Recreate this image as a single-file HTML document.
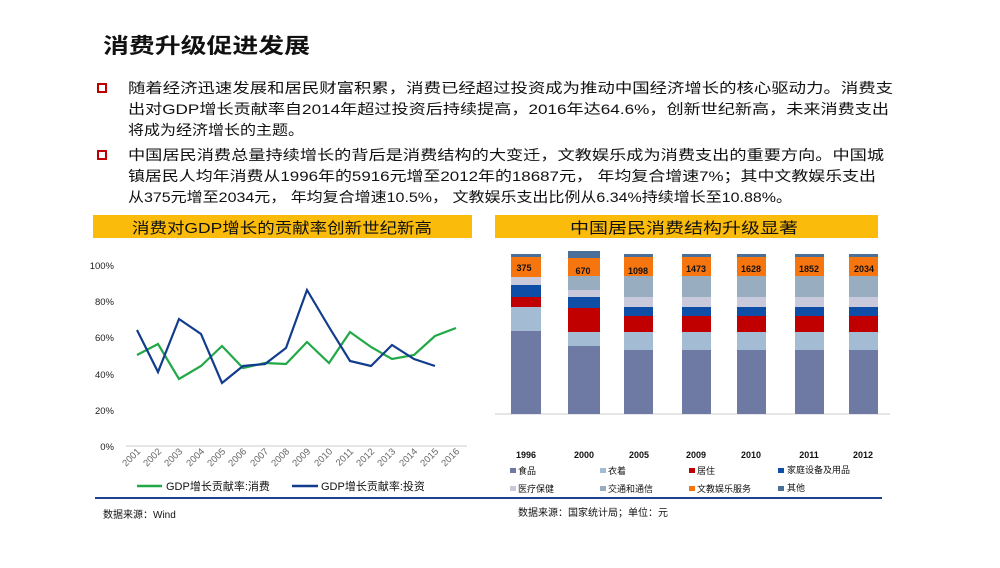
<!DOCTYPE html>
<html><head><meta charset="utf-8"><style>
body{margin:0;background:#fff}
svg text{font-family:"Liberation Sans","Noto Sans CJK SC",sans-serif}
</style></head><body>
<svg width="1000" height="563" xmlns="http://www.w3.org/2000/svg">
<text x="103" y="53" font-size="21" font-weight="bold" fill="#111" textLength="207" lengthAdjust="spacingAndGlyphs">消费升级促进发展</text>
<rect x="98" y="84" width="8" height="8" fill="none" stroke="#c00000" stroke-width="2"/>
<rect x="98" y="151" width="8" height="8" fill="none" stroke="#c00000" stroke-width="2"/>
<g font-size="14" fill="#111">
<text x="128" y="93" textLength="765" lengthAdjust="spacingAndGlyphs">随着经济迅速发展和居民财富积累，消费已经超过投资成为推动中国经济增长的核心驱动力。消费支</text>
<text x="128" y="114" textLength="761" lengthAdjust="spacingAndGlyphs">出对GDP增长贡献率自2014年超过投资后持续提高，2016年达64.6%，创新世纪新高，未来消费支出</text>
<text x="128" y="135" textLength="176" lengthAdjust="spacingAndGlyphs">将成为经济增长的主题。</text>
<text x="128" y="160" textLength="756" lengthAdjust="spacingAndGlyphs">中国居民消费总量持续增长的背后是消费结构的大变迁，文教娱乐成为消费支出的重要方向。中国城</text>
<text x="128" y="181" textLength="748" lengthAdjust="spacingAndGlyphs">镇居民人均年消费从1996年的5916元增至2012年的18687元， 年均复合增速7%；其中文教娱乐支出</text>
<text x="128" y="202" textLength="664" lengthAdjust="spacingAndGlyphs">从375元增至2034元， 年均复合增速10.5%， 文教娱乐支出比例从6.34%持续增长至10.88%。</text>
</g>
<rect x="93" y="215" width="379" height="23" fill="#fbbb0a"/>
<rect x="495" y="215" width="383" height="23" fill="#fbbb0a"/>
<text x="132" y="233" font-size="15" fill="#111" textLength="300" lengthAdjust="spacingAndGlyphs">消费对GDP增长的贡献率创新世纪新高</text>
<text x="570" y="233" font-size="15" fill="#111" textLength="228" lengthAdjust="spacingAndGlyphs">中国居民消费结构升级显著</text>
<!-- line chart -->
<g font-size="9.5" fill="#222" text-anchor="end">
<text x="114" y="269">100%</text><text x="114" y="305">80%</text><text x="114" y="341">60%</text>
<text x="114" y="378">40%</text><text x="114" y="414">20%</text><text x="114" y="450">0%</text>
</g>
<line x1="126" y1="446" x2="467" y2="446" stroke="#ccc"/>
<g font-size="9.5" fill="#666" text-anchor="end">
<text transform="translate(141,452) rotate(-45)">2001</text><text transform="translate(162,452) rotate(-45)">2002</text>
<text transform="translate(183,452) rotate(-45)">2003</text><text transform="translate(205,452) rotate(-45)">2004</text>
<text transform="translate(226,452) rotate(-45)">2005</text><text transform="translate(247,452) rotate(-45)">2006</text>
<text transform="translate(269,452) rotate(-45)">2007</text><text transform="translate(290,452) rotate(-45)">2008</text>
<text transform="translate(311,452) rotate(-45)">2009</text><text transform="translate(333,452) rotate(-45)">2010</text>
<text transform="translate(354,452) rotate(-45)">2011</text><text transform="translate(375,452) rotate(-45)">2012</text>
<text transform="translate(396,452) rotate(-45)">2013</text><text transform="translate(418,452) rotate(-45)">2014</text>
<text transform="translate(439,452) rotate(-45)">2015</text><text transform="translate(460,452) rotate(-45)">2016</text>
</g>
<polyline fill="none" stroke="#21a847" stroke-width="2.2" points="137,355 158,344 179,379 201,366 222,346 243,368 265,363 286,364 307,342 329,363 350,332 371,347 392,359 414,355 435,336 456,328"/>
<polyline fill="none" stroke="#123c8c" stroke-width="2.2" points="137,330 158,372 179,319 201,334 222,383 243,366 265,364 286,348 307,290 329,327 350,361 371,366 392,345 414,359 435,366"/>
<line x1="137" y1="486" x2="162" y2="486" stroke="#21a847" stroke-width="2.5"/>
<text x="166" y="490" font-size="11" fill="#111">GDP增长贡献率:消费</text>
<line x1="292" y1="486" x2="318" y2="486" stroke="#123c8c" stroke-width="2.5"/>
<text x="321" y="490" font-size="11" fill="#111">GDP增长贡献率:投资</text>
<!-- bar chart -->
<line x1="495" y1="414" x2="890" y2="414" stroke="#ccc"/>
<g>
<rect x="511" y="254" width="30" height="3" fill="#4a6f99"/>
<rect x="511" y="257" width="30" height="20" fill="#f7750e"/>
<rect x="511" y="277" width="30" height="8" fill="#c9c9dc"/>
<rect x="511" y="285" width="30" height="12" fill="#0e4ea6"/>
<rect x="511" y="297" width="30" height="10" fill="#c00000"/>
<rect x="511" y="307" width="30" height="24" fill="#a3bbd3"/>
<rect x="511" y="331" width="30" height="83" fill="#6e7aa3"/>
<rect x="568" y="251" width="32" height="7" fill="#4a6f99"/>
<rect x="568" y="258" width="32" height="18" fill="#f7750e"/>
<rect x="568" y="276" width="32" height="14" fill="#98aec0"/>
<rect x="568" y="290" width="32" height="7" fill="#c9c9dc"/>
<rect x="568" y="297" width="32" height="11" fill="#0e4ea6"/>
<rect x="568" y="308" width="32" height="24" fill="#c00000"/>
<rect x="568" y="332" width="32" height="14" fill="#a3bbd3"/>
<rect x="568" y="346" width="32" height="68" fill="#6e7aa3"/>
</g>
<g id="b">
<rect x="0" y="254" width="29" height="3" fill="#4a6f99"/>
<rect x="0" y="257" width="29" height="19" fill="#f7750e"/>
<rect x="0" y="276" width="29" height="21" fill="#98aec0"/>
<rect x="0" y="297" width="29" height="10" fill="#c9c9dc"/>
<rect x="0" y="307" width="29" height="9" fill="#0e4ea6"/>
<rect x="0" y="316" width="29" height="16" fill="#c00000"/>
<rect x="0" y="332" width="29" height="18" fill="#a3bbd3"/>
<rect x="0" y="350" width="29" height="64" fill="#6e7aa3"/>
</g>
<use href="#b" transform="translate(624,0)"/>
<use href="#b" transform="translate(682,0)"/>
<use href="#b" transform="translate(737,0)"/>
<use href="#b" transform="translate(795,0)"/>
<use href="#b" transform="translate(849,0)"/>
<rect x="0" y="254" width="29" height="160" fill="#fff"/>
<g font-size="9" font-weight="bold" fill="#111" text-anchor="middle">
<text x="524" y="271">375</text><text x="583" y="274">670</text><text x="638" y="274">1098</text>
<text x="696" y="272">1473</text><text x="751" y="272">1628</text><text x="809" y="272">1852</text><text x="864" y="272">2034</text>
</g>
<g font-size="9" font-weight="bold" fill="#111" text-anchor="middle">
<text x="526" y="458">1996</text><text x="584" y="458">2000</text><text x="639" y="458">2005</text>
<text x="696" y="458">2009</text><text x="751" y="458">2010</text><text x="809" y="458">2011</text><text x="863" y="458">2012</text>
</g>
<g font-size="9" fill="#111">
<rect x="510" y="468" width="6" height="5" fill="#6e7aa3"/><text x="518" y="474">食品</text>
<rect x="600" y="468" width="6" height="5" fill="#a3bbd3"/><text x="608" y="474">衣着</text>
<rect x="689" y="468" width="6" height="5" fill="#c00000"/><text x="697" y="474">居住</text>
<rect x="778" y="468" width="6" height="5" fill="#0e4ea6"/><text x="787" y="473">家庭设备及用品</text>
<rect x="510" y="486" width="6" height="5" fill="#c9c9dc"/><text x="518" y="492">医疗保健</text>
<rect x="600" y="486" width="6" height="5" fill="#98aec0"/><text x="608" y="492">交通和通信</text>
<rect x="689" y="486" width="6" height="5" fill="#f7750e"/><text x="697" y="492">文教娱乐服务</text>
<rect x="778" y="486" width="6" height="5" fill="#4a6f99"/><text x="787" y="491">其他</text>
</g>
<line x1="95" y1="498" x2="882" y2="498" stroke="#1f3f8f" stroke-width="2"/>
<text x="103" y="518" font-size="10" fill="#111">数据来源：Wind</text>
<text x="518" y="516" font-size="10" fill="#111">数据来源：国家统计局；单位：元</text>
</svg>
</body></html>
